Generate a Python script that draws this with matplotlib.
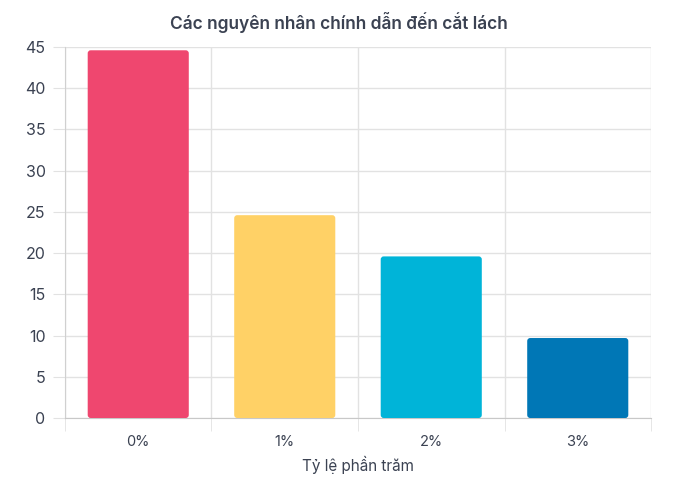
import numpy as np
import matplotlib.pyplot as plt
from matplotlib.patches import FancyBboxPatch

# du lieu
nhan = ['0%', '1%', '2%', '3%']
gia_tri = [44.6, 24.6, 19.6, 9.7]
mau = ['#ef476f', '#ffd166', '#00b4d8', '#0077b6']

plt.rcParams['font.family'] = ['Inter', 'DejaVu Sans']
chu = '#3b4252'
luoi = '#e2e2e2'

fig = plt.figure(figsize=(6.77, 4.92), dpi=100)
ax = fig.add_axes([0.096, 0.1504, 0.8656, 0.7541])

x = np.arange(len(nhan))
rong = 0.69
ax.set_xlim(-0.5, len(nhan) - 0.5)
ax.set_ylim(0, 45)

# ty le de bo goc tron deu
px_x = (len(nhan)) / (0.8656 * 677)
px_y = 45 / (0.7541 * 492)
for xi, v, c in zip(x, gia_tri, mau):
    p = FancyBboxPatch((xi - rong / 2, 0), rong, v,
                       boxstyle='round,pad=0,rounding_size=%f' % (3 * px_x),
                       mutation_aspect=px_y / px_x,
                       facecolor=c, edgecolor='none', zorder=3)
    ax.add_patch(p)

ax.set_yticks(np.arange(0, 46, 5))
ax.set_xticks(x)
ax.set_xticklabels(nhan)
ax.set_xticks(np.arange(-0.5, len(nhan), 1), minor=True)

ax.grid(True, axis='y', color=luoi, linewidth=1, zorder=0)
ax.grid(True, axis='x', which='minor', color=luoi, linewidth=1, zorder=0)
ax.grid(False, axis='x', which='major')

ax.tick_params(axis='y', length=9, color=luoi, labelsize=11.5, labelcolor=chu, pad=5)
ax.tick_params(axis='x', which='major', length=0, labelsize=10.5, labelcolor=chu, pad=12)
ax.tick_params(axis='x', which='minor', length=9, color=luoi)

for s in ['top', 'right']:
    ax.spines[s].set_visible(False)
ax.spines['left'].set_color('#d0d0d0')
ax.spines['bottom'].set_color('#c8c8c8')

ax.set_xlabel('Tỷ lệ phần trăm', fontsize=11, color=chu, labelpad=5)
fig.text(0.5, 0.955, 'Các nguyên nhân chính dẫn đến cắt lách', ha='center', va='center',
         fontsize=12.5, fontweight='semibold', color=chu)

fig.savefig('out.png', dpi=100)
